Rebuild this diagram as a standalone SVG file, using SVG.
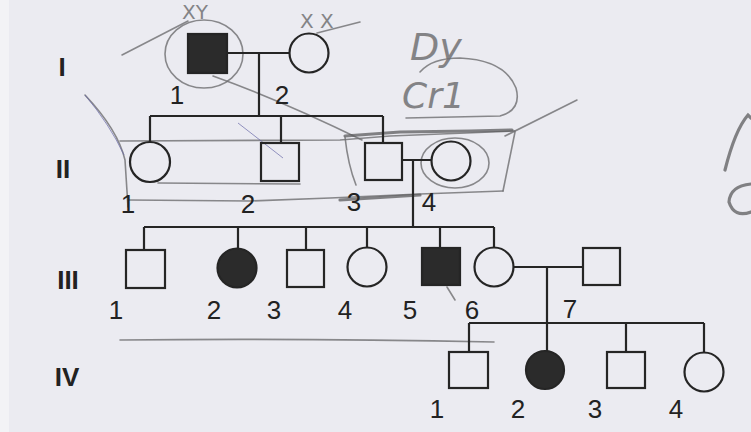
<svg xmlns="http://www.w3.org/2000/svg" width="751" height="432" viewBox="0 0 751 432">
<style>
.sym{fill:none;stroke:#252525;stroke-width:2.2}
.aff{fill:#2b2b2b;stroke:#252525;stroke-width:2.2}
.ln{fill:none;stroke:#252525;stroke-width:2.2}
.num{font-family:"Liberation Sans",Arial,sans-serif;font-size:26px;fill:#222;text-anchor:middle}
.gen{font-family:"Liberation Sans",Arial,sans-serif;font-size:26px;font-weight:bold;fill:#222;text-anchor:middle}
.pen{fill:none;stroke:#6e6e70;stroke-width:1.6;stroke-linecap:round;opacity:0.8}
.penT{fill:none;stroke:#5c5c5e;stroke-width:3.2;stroke-linecap:round;opacity:0.75}
.blue{fill:none;stroke:#6a6aa8;stroke-width:1;opacity:0.7}
.hand{font-family:"DejaVu Sans",sans-serif;fill:#6a6a6c;opacity:0.8}
</style>
<rect x="0" y="0" width="751" height="432" fill="#ebebf1"/>
<rect x="0" y="0" width="9" height="432" fill="#f3f3f6"/>

<!-- pencil scribbles -->
<g id="scribbles">
<ellipse class="pen" cx="204" cy="54" rx="39" ry="34"/>
<path class="pen" d="M122,55 L188,21"/>
<path class="pen" d="M213,76 Q280,100 362,140"/>
<path class="pen" d="M317,33 L360,22"/>
<text class="hand" x="182" y="19" font-size="20">XY</text>
<text class="hand" x="300" y="28" font-size="20">X X</text>
<text class="hand" x="410" y="60" font-size="38" font-style="italic">Dy</text>
<text class="hand" x="402" y="108" font-size="36" font-style="italic">Cr1</text>
<path class="pen" d="M406,118 L500,116 Q522,110 516,88 Q505,60 460,58 Q432,58 420,72"/>
<path class="pen" d="M120,141 L340,140 L390,136 L515,131"/>
<path class="penT" d="M345,136 L400,132 L470,131 L512,130"/>
<path class="pen" d="M128,200 L250,201 L330,198 L420,194 L503,191"/>
<path class="penT" d="M340,200 L420,195"/>
<path class="pen" d="M158,183 L300,184"/>
<path class="pen" d="M515,132 L503,191"/>
<path class="pen" d="M505,136 L577,100"/>
<path class="pen" d="M85,95 Q118,130 125,160 L128,207"/>
<path class="blue" d="M85,95 Q110,125 124,155"/>
<path class="blue" d="M238,123 L283,158"/>
<path class="pen" d="M345,137 Q348,165 356,185"/>
<ellipse class="pen" cx="455" cy="163" rx="34" ry="25"/>
<path class="pen" d="M120,340 Q300,338 494,342"/>
<path class="pen" d="M447,287 L455,300"/>
<path class="penT" d="M725,170 Q735,130 748,115 L751,118"/>
<path class="penT" d="M751,184 Q730,186 729,202 Q734,218 751,212"/>
</g>

<!-- connectors -->
<g id="connectors">
<path class="ln" d="M227,53 L290,53 M259,53 L259,116"/>
<path class="ln" d="M150,116 L383,116 M150,116 L150,143 M281,116 L281,143 M383,116 L383,143"/>
<path class="ln" d="M402,160 L432,160 M413,160 L413,227"/>
<path class="ln" d="M144,227 L494,227 M144,227 L144,250 M238,227 L238,249 M306,227 L306,250 M367,227 L367,248 M440,227 L440,248 M494,227 L494,248"/>
<path class="ln" d="M513,267 L583,267 M547,267 L547,351"/>
<path class="ln" d="M469,323 L704,323 M469,323 L469,352 M626,323 L626,352 M704,323 L704,353"/>
</g>

<!-- generation labels -->
<text class="gen" x="62" y="76">I</text>
<text class="gen" x="63" y="178">II</text>
<text class="gen" x="68" y="289">III</text>
<text class="gen" x="67" y="386">IV</text>

<!-- Generation I -->
<g id="I-1"><rect class="aff" x="188" y="34" width="39" height="39"/><text class="num" x="177" y="104">1</text></g>
<g id="I-2"><circle class="sym" cx="309" cy="53" r="19.5"/><text class="num" x="282" y="104">2</text></g>

<!-- Generation II -->
<g id="II-1"><circle class="sym" cx="150" cy="162" r="20"/><text class="num" x="128" y="213">1</text></g>
<g id="II-2"><rect class="sym" x="261" y="143" width="38" height="38"/><text class="num" x="248" y="213">2</text></g>
<g id="II-3"><rect class="sym" x="365" y="143" width="37" height="37"/><text class="num" x="354" y="211">3</text></g>
<g id="II-4"><circle class="sym" cx="451" cy="161" r="19.5"/><text class="num" x="429" y="211">4</text></g>

<!-- Generation III -->
<g id="III-1"><rect class="sym" x="126" y="250" width="39" height="38"/><text class="num" x="116" y="319">1</text></g>
<g id="III-2"><circle class="aff" cx="237" cy="268" r="19.5"/><text class="num" x="214" y="319">2</text></g>
<g id="III-3"><rect class="sym" x="287" y="250" width="37" height="37"/><text class="num" x="274" y="319">3</text></g>
<g id="III-4"><circle class="sym" cx="367" cy="267" r="19.5"/><text class="num" x="345" y="319">4</text></g>
<g id="III-5"><rect class="aff" x="422" y="248" width="38" height="37"/><text class="num" x="410" y="319">5</text></g>
<g id="III-6"><circle class="sym" cx="494" cy="267" r="19.5"/><text class="num" x="472" y="319">6</text></g>
<g id="III-7"><rect class="sym" x="583" y="248" width="37" height="37"/><text class="num" x="570" y="318">7</text></g>

<!-- Generation IV -->
<g id="IV-1"><rect class="sym" x="449" y="352" width="39" height="36"/><text class="num" x="437" y="418">1</text></g>
<g id="IV-2"><circle class="aff" cx="545" cy="370" r="19"/><text class="num" x="518" y="418">2</text></g>
<g id="IV-3"><rect class="sym" x="607" y="352" width="38" height="36"/><text class="num" x="595" y="418">3</text></g>
<g id="IV-4"><circle class="sym" cx="704" cy="372" r="19.5"/><text class="num" x="676" y="418">4</text></g>
</svg>
